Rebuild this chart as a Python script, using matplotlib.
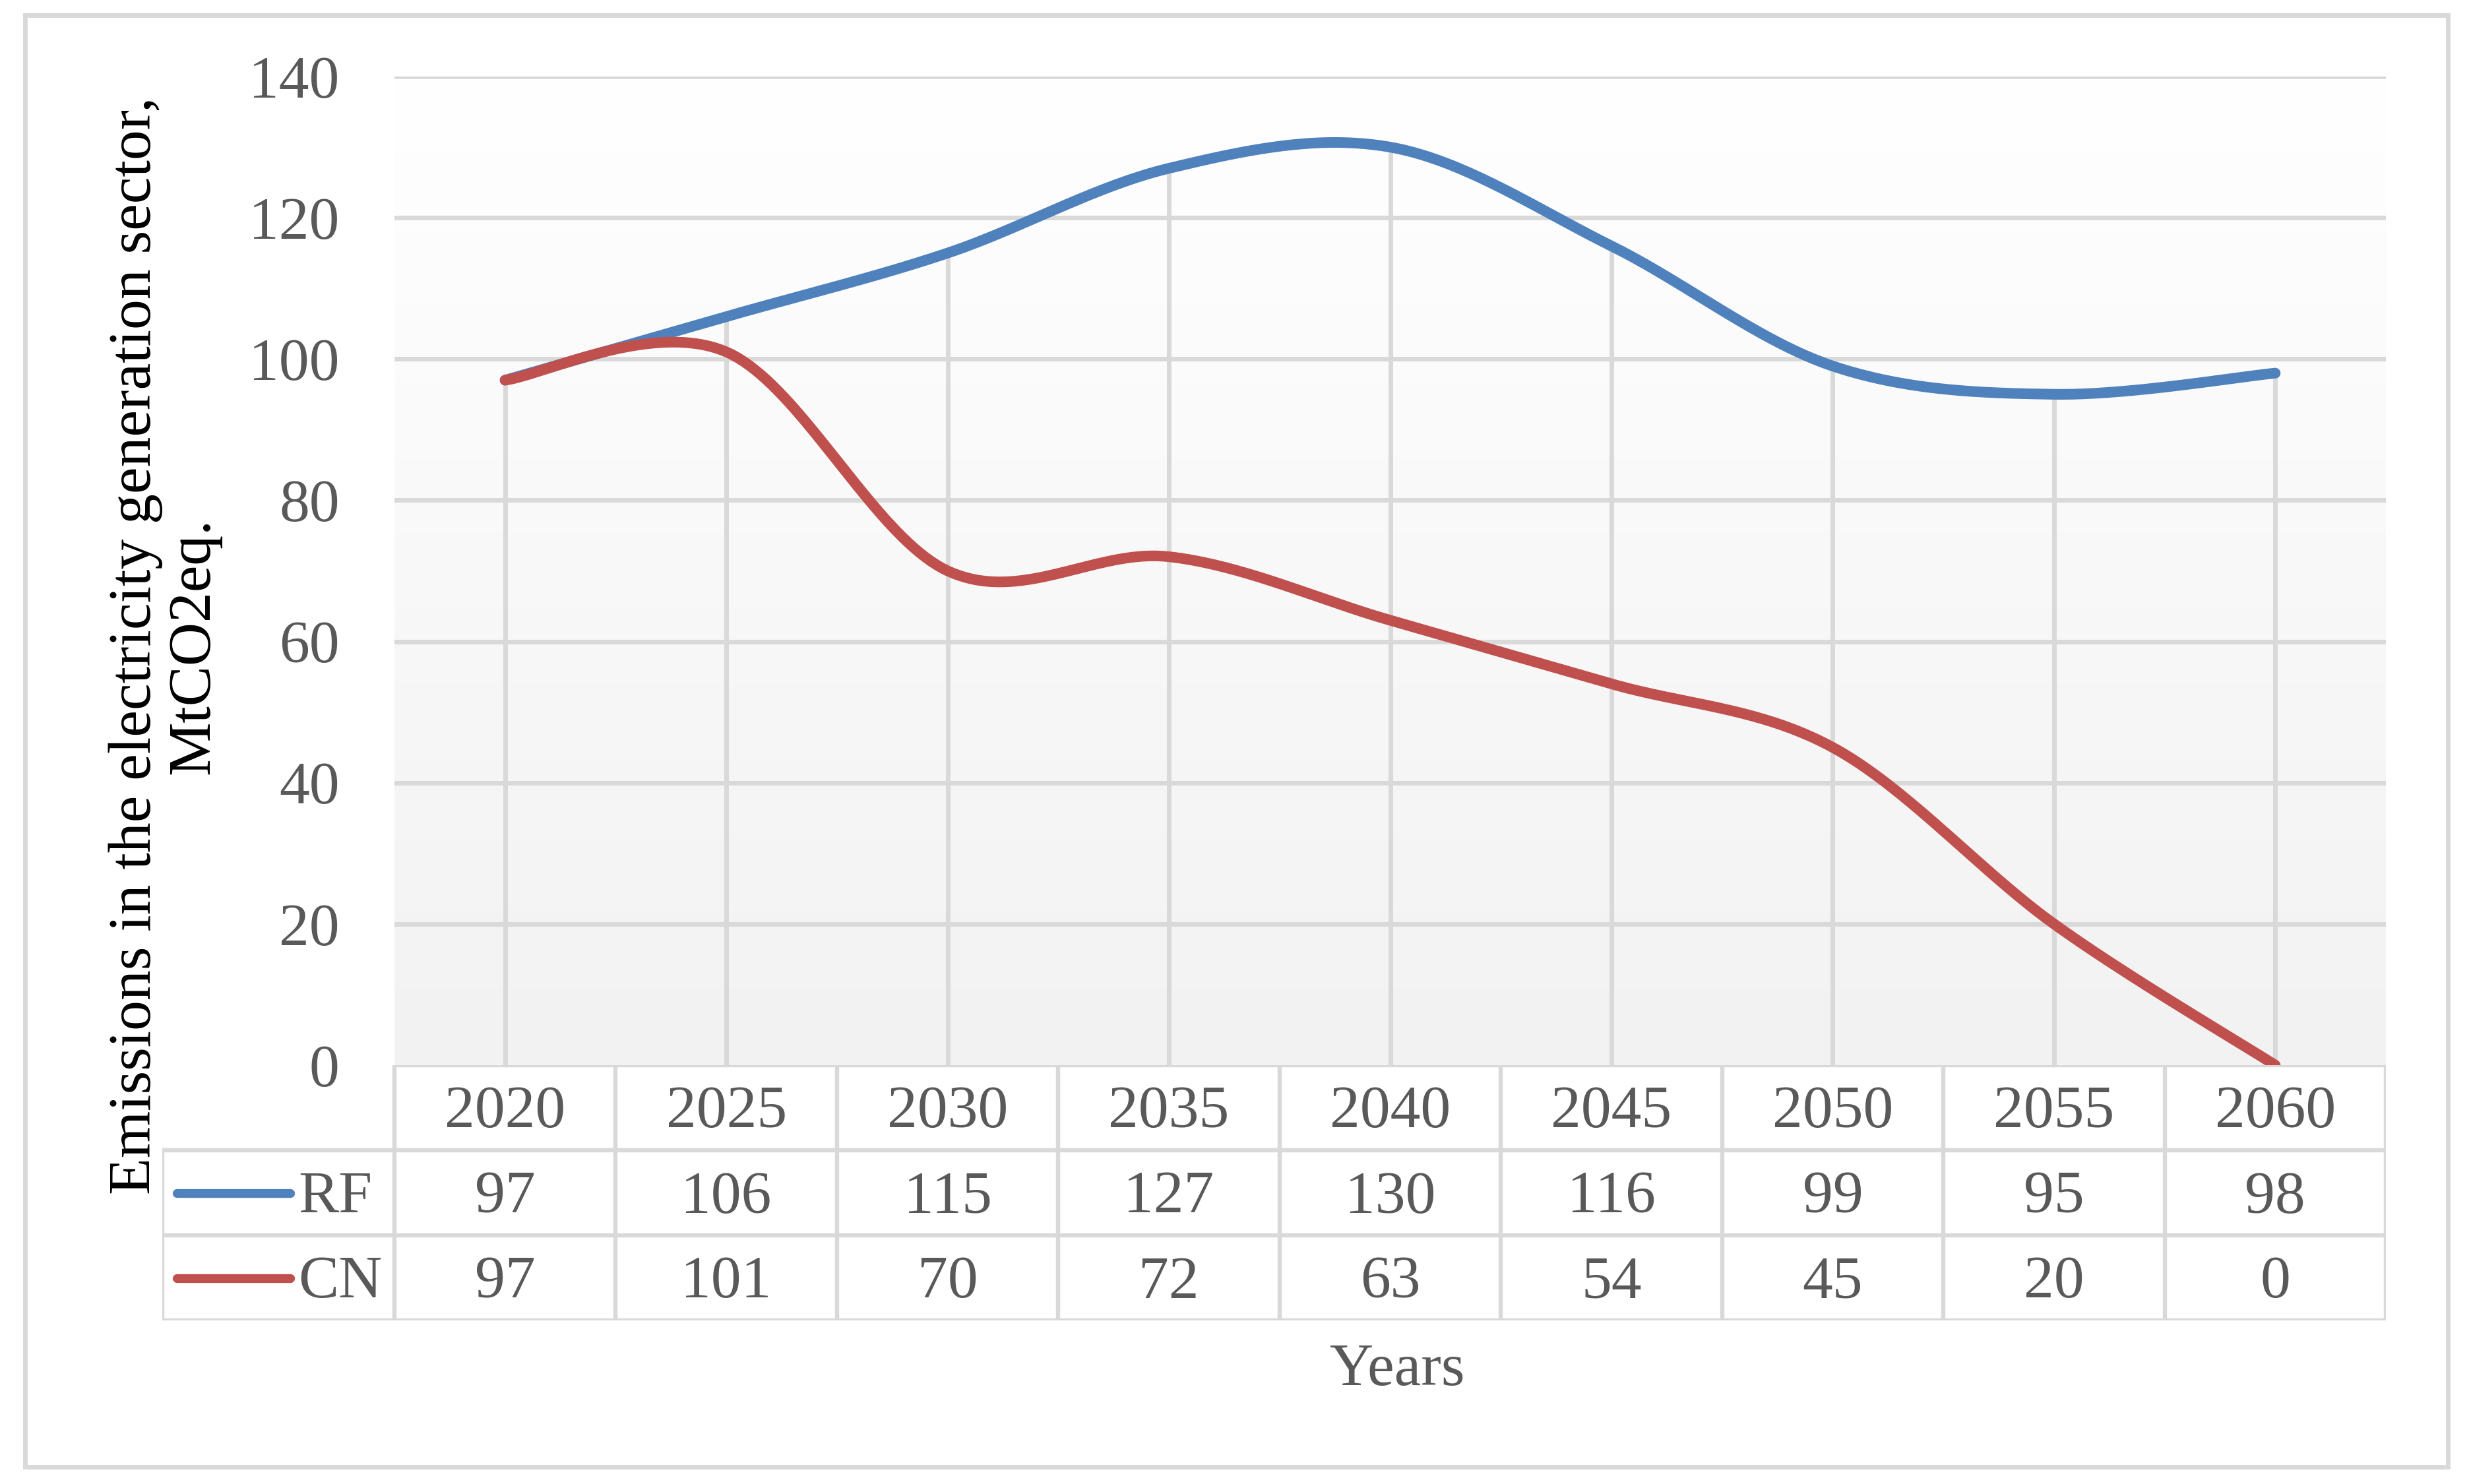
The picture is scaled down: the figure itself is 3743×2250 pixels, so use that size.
import numpy as np
import matplotlib.pyplot as plt
from matplotlib.lines import Line2D
from matplotlib.patches import Rectangle

# data
years = ["2020", "2025", "2030", "2035", "2040", "2045", "2050", "2055", "2060"]
rf = [97, 106, 115, 127, 130, 116, 99, 95, 98]
cn = [97, 101, 70, 72, 63, 54, 45, 20, 0]
series_names = ["RF", "CN"]
series_colors = ["#4F81BD", "#C0504D"]
yticks = [0, 20, 40, 60, 80, 100, 120, 140]

W, H = 3743, 2250
DPI = 200
GRID = "#D9D9D9"
TXT = "#595959"
FONT = "Liberation Serif"
FS = 33

plt.rcParams["font.family"] = [FONT, "DejaVu Serif"]


def fx(px):
    return px / W


def fy(py):
    return 1 - py / H


def smooth(xs, ys, n=40):
    # bezier smoothing like excel "smoothed line"
    p = np.column_stack([xs, ys]).astype(float)
    out = []
    for i in range(len(p) - 1):
        p0 = p[i - 1] if i > 0 else p[i]
        p1 = p[i]
        p2 = p[i + 1]
        p3 = p[i + 2] if i + 2 < len(p) else p[i + 1]
        b1 = p1 + (p2 - p0) / 6
        b2 = p2 - (p3 - p1) / 6
        t = np.linspace(0, 1, n)[:, None]
        seg = (1 - t) ** 3 * p1 + 3 * (1 - t) ** 2 * t * b1 + 3 * (1 - t) * t ** 2 * b2 + t ** 3 * p2
        out.append(seg if i == 0 else seg[1:])
    out = np.vstack(out)
    return out[:, 0], out[:, 1]


fig = plt.figure(figsize=(W / DPI, H / DPI), dpi=DPI)

# outer border
fig.patches.append(Rectangle((fx(38), fy(2224)), fx(3711) - fx(38), fy(23) - fy(2224),
                             transform=fig.transFigure, fill=False, ec=GRID, lw=2.5))

left, right, top, bottom = 598, 3617, 116, 1615
ax = fig.add_axes([fx(left), fy(bottom), fx(right) - fx(left), fy(top) - fy(bottom)])
n = len(years)
x = np.arange(n)
ax.set_xlim(-0.5, n - 0.5)
ax.set_ylim(0, 140)

# background gradient
grad = np.linspace(0, 1, 256)[:, None]
c_top = np.array([1.0, 1.0, 1.0])
c_bot = np.array([0xF2, 0xF2, 0xF2]) / 255
img = c_bot + (c_top - c_bot) * grad
ax.imshow(img[:, :, None].repeat(1, axis=2).reshape(256, 1, 3), extent=[-0.5, n - 0.5, 0, 140],
          origin="lower", aspect="auto", zorder=0)

for v in yticks[1:]:
    ax.axhline(v, color=GRID, lw=2.5, zorder=1)

# drop lines
for i in range(n):
    ax.plot([x[i], x[i]], [0, max(rf[i], cn[i])], color=GRID, lw=2.5, zorder=1)

for vals, col in zip([rf, cn], series_colors):
    sx, sy = smooth(x, vals)
    ax.plot(sx, sy, color=col, lw=5.8, solid_capstyle="round", zorder=3)

ax.set_yticks(yticks)
ax.set_yticklabels([str(v) for v in yticks], fontsize=FS, color=TXT)
ax.tick_params(axis="y", length=0, pad=30)
ax.set_xticks([])
for s in ax.spines.values():
    s.set_visible(False)

# data table
tab_left, tab_bottom = 246, 2002
row_h = (tab_bottom - bottom) / 3
col_w = (right - left) / n
tax = fig.add_axes([fx(tab_left), fy(tab_bottom), fx(right) - fx(tab_left), fy(bottom) - fy(tab_bottom)])
x0 = -0.5 - (left - tab_left) / col_w
tax.set_xlim(x0, n - 0.5)
tax.set_ylim(3, 0)
tax.axis("off")

lk = dict(color=GRID, lw=2.3, solid_capstyle="projecting")
tax.plot([-0.5, n - 0.5], [0, 0], **lk)
for r in [1, 2, 3]:
    tax.plot([x0, n - 0.5], [r, r], **lk)
tax.plot([x0, x0], [1, 3], **lk)
for k in range(n + 1):
    tax.plot([k - 0.5, k - 0.5], [0, 3], **lk)

cap = 30 / row_h
for i, yr in enumerate(years):
    tax.text(i, 0.5 + cap, yr, ha="center", va="baseline", fontsize=FS, color=TXT)
for r, (vals, name, col) in enumerate(zip([rf, cn], series_names, series_colors), start=1):
    for i, v in enumerate(vals):
        tax.text(i, r + 0.5 + cap, str(v), ha="center", va="baseline", fontsize=FS, color=TXT)
    kx0 = x0 + (268 - tab_left) / col_w
    kx1 = x0 + (440 - tab_left) / col_w
    tax.plot([kx0, kx1], [r + 0.5, r + 0.5], color=col, lw=4.8, solid_capstyle="round")
    tax.text(x0 + (452 - tab_left) / col_w, r + 0.5 + cap, name, ha="left", va="baseline",
             fontsize=FS, color=TXT)

fig.text(fx(2118), fy(2100), "Years", ha="center", va="baseline", fontsize=FS, color=TXT)
fig.text(fx(250), fy(979), "Emissions in the electricity generation sector,\nMtCO2eq.",
         rotation=90, ha="center", va="center", fontsize=FS, color="black", linespacing=1.1,
         multialignment="center")

fig.savefig("out.png", dpi=DPI)
